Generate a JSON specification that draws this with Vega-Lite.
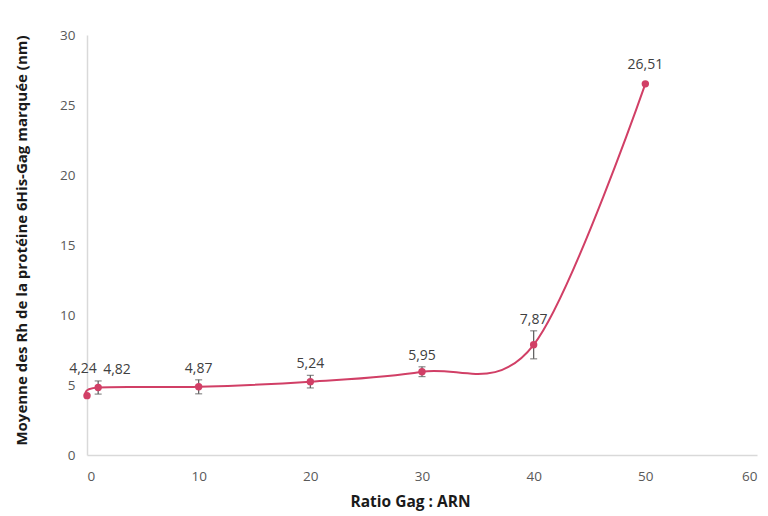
{
  "$schema": "https://vega.github.io/schema/vega-lite/v6.json",
  "width": 670,
  "height": 420,
  "autosize": "none",
  "padding": {"left": 87, "top": 35, "right": 11, "bottom": 61},
  "config": {
    "view": {"stroke": null},
    "locale": {"number": {"decimal": ",", "thousands": " ", "grouping": [3], "currency": ["", " €"]}},
    "font": "Open Sans"
  },
  "data": {
    "values": [
      {"ratio": 0, "rh": 4.24},
      {"ratio": 1, "rh": 4.82, "lo": 4.35, "hi": 5.29},
      {"ratio": 10, "rh": 4.87, "lo": 4.37, "hi": 5.37},
      {"ratio": 20, "rh": 5.24, "lo": 4.79, "hi": 5.69},
      {"ratio": 30, "rh": 5.95, "lo": 5.6, "hi": 6.3},
      {"ratio": 40, "rh": 7.87, "lo": 6.87, "hi": 8.87},
      {"ratio": 50, "rh": 26.51}
    ]
  },
  "encoding": {
    "x": {
      "field": "ratio", "type": "quantitative",
      "scale": {"domain": [0, 60], "nice": false},
      "axis": {
        "title": "Ratio Gag : ARN", "values": [0, 10, 20, 30, 40, 50, 60],
        "grid": false, "ticks": false, "domainColor": "#d9d9d9", "domainWidth": 1.5,
        "labelColor": "#595959", "labelFontSize": 13.5, "labelPadding": 14,
        "titleFontSize": 15.5, "titleFontWeight": "bold", "titleColor": "#1a1a1a", "titlePadding": 12,
        "titleX": 323
      }
    },
    "y": {
      "field": "rh", "type": "quantitative",
      "scale": {"domain": [0, 30], "nice": false},
      "axis": {
        "title": "Moyenne des Rh de la protéine 6His-Gag marquée (nm)", "values": [0, 5, 10, 15, 20, 25, 30],
        "grid": false, "ticks": false, "domainColor": "#d9d9d9", "domainWidth": 1.5,
        "labelColor": "#595959", "labelFontSize": 13.5, "labelPadding": 12,
        "titleFontSize": 15, "titleFontWeight": "bold", "titleColor": "#1a1a1a", "titlePadding": 30,
        "titleY": 205
      }
    }
  },
  "layer": [
    {
      "mark": {"type": "line", "interpolate": "cardinal", "color": "#d13f66", "strokeWidth": 2}
    },
    {
      "transform": [{"filter": "isValid(datum.lo)"}],
      "mark": {"type": "errorbar", "ticks": {"size": 7, "color": "#595959"}, "rule": {"color": "#595959"}, "thickness": 1.2},
      "encoding": {
        "y": {"field": "lo", "type": "quantitative"},
        "y2": {"field": "hi"}
      }
    },
    {
      "mark": {"type": "point", "filled": true, "size": 55, "color": "#d13f66", "opacity": 1}
    },
    {
      "transform": [{"filter": "datum.ratio >= 10 && datum.ratio < 50"}],
      "mark": {"type": "text", "baseline": "bottom", "dy": -4, "fontSize": 14, "color": "#404040"},
      "encoding": {
        "y": {"field": "hi", "type": "quantitative"},
        "text": {"field": "rh", "type": "quantitative", "format": ".2f"}
      }
    },
    {
      "transform": [{"filter": "datum.ratio == 50"}],
      "mark": {"type": "text", "baseline": "bottom", "dy": -12, "fontSize": 14, "color": "#404040"},
      "encoding": {
        "text": {"field": "rh", "type": "quantitative", "format": ".2f"}
      }
    },
    {
      "transform": [{"filter": "datum.ratio == 0"}],
      "mark": {"type": "text", "baseline": "bottom", "align": "center", "dx": -4, "dy": -20, "fontSize": 14, "color": "#404040"},
      "encoding": {
        "text": {"field": "rh", "type": "quantitative", "format": ".2f"}
      }
    },
    {
      "transform": [{"filter": "datum.ratio == 1"}],
      "mark": {"type": "text", "baseline": "bottom", "align": "left", "dx": 5, "dy": -11, "fontSize": 14, "color": "#404040"},
      "encoding": {
        "text": {"field": "rh", "type": "quantitative", "format": ".2f"}
      }
    }
  ]
}
